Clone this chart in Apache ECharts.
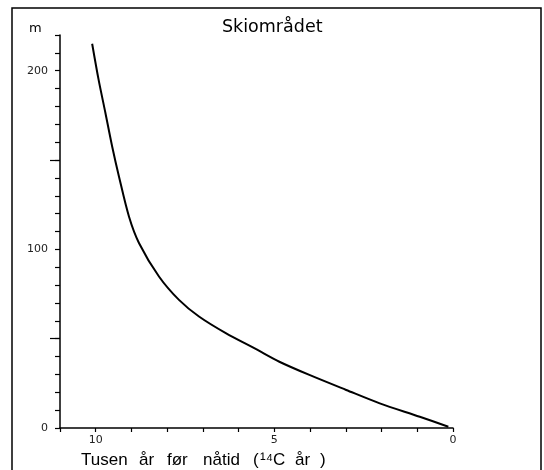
<!DOCTYPE html>
<html><head><meta charset="utf-8">
<script src="https://cdn.jsdelivr.net/npm/echarts@6/dist/echarts.min.js"></script>
<style>html,body{margin:0;padding:0;background:#fff}#c{width:544px;height:470px}</style>
</head><body><div id="c"></div>
<script>
const titleText = 'Skiområdet';
const yUnit = 'm';
const xNameWords = ['Tusen', 'år', 'før', 'nåtid', '(', '¹⁴C', 'år', ')'];
const ages = [10.10, 9.92, 9.73, 9.54, 9.35, 9.07, 8.79, 8.23, 7.67, 7.11, 6.36, 5.51, 4.86, 4.02, 2.99, 2.05, 0.93, 0.13];
const heights = [215.1, 195.0, 176.5, 157.6, 140.8, 118.4, 103.6, 84.8, 71.7, 62.4, 53.1, 44.1, 37.1, 29.7, 21.3, 13.8, 6.3, 0.7];
const xLabels = [0, 5, 10];
const yLabels = [0, 100, 200];

const chart = echarts.init(document.getElementById('c'));
const font = 'Liberation Sans, Arial, sans-serif';
const dfont = 'DejaVu Sans, sans-serif';
const pts = ages.map((a, i) => [a, heights[i]]);
const wordX = [81, 139, 167, 203, 253, 260, 295, 320];
chart.setOption({
  animation: false,
  backgroundColor: '#fff',
  grid: {left: 60, right: 91, top: 35, bottom: 42},
  xAxis: {
    type: 'value', min: 0, max: 11, interval: 1, inverse: true,
    axisLine: {onZero: false, lineStyle: {color: '#000', width: 1.5}},
    axisTick: {inside: false, length: 4, lineStyle: {color: '#000', width: 1.2}},
    axisLabel: {color: '#222', fontSize: 11, fontFamily: dfont, margin: 7,
      formatter: v => xLabels.includes(v) ? String(v) : ''},
    splitLine: {show: false}
  },
  yAxis: [{
    type: 'value', min: 0, max: 220, interval: 10, position: 'left',
    axisLine: {show: true, onZero: false, lineStyle: {color: '#000', width: 1.5}},
    axisTick: {show: true, length: 5, lineStyle: {color: '#000', width: 1.2}},
    axisLabel: {color: '#222', fontSize: 11, fontFamily: dfont, margin: 12,
      formatter: v => yLabels.includes(v) ? String(v) : ''},
    splitLine: {show: false}
  }, {
    type: 'value', min: 0, max: 220, position: 'left',
    axisLine: {show: false, onZero: false},
    axisTick: {show: true, length: 10, customValues: [50, 150], lineStyle: {color: '#000', width: 1.2}},
    axisLabel: {show: false},
    splitLine: {show: false}
  }],
  series: [{
    type: 'line', smooth: 0.3, symbol: 'none',
    data: pts,
    lineStyle: {color: '#000', width: 2}
  }],
  graphic: [
    {type: 'rect', shape: {x: 12, y: 8, width: 529, height: 470}, style: {fill: 'none', stroke: '#000', lineWidth: 1.5}, silent: true},
    {type: 'text', left: 222, top: 18, style: {text: titleText, font: '17.5px ' + dfont, fill: '#000'}},
    {type: 'text', left: 29, top: 22, style: {text: yUnit, font: '13px ' + dfont, fill: '#000'}}
  ].concat(xNameWords.map((w, i) => ({
    type: 'text', left: wordX[i], top: 452, style: {text: w, font: '17px ' + font, fill: '#000'}
  })))
});
</script></body></html>
